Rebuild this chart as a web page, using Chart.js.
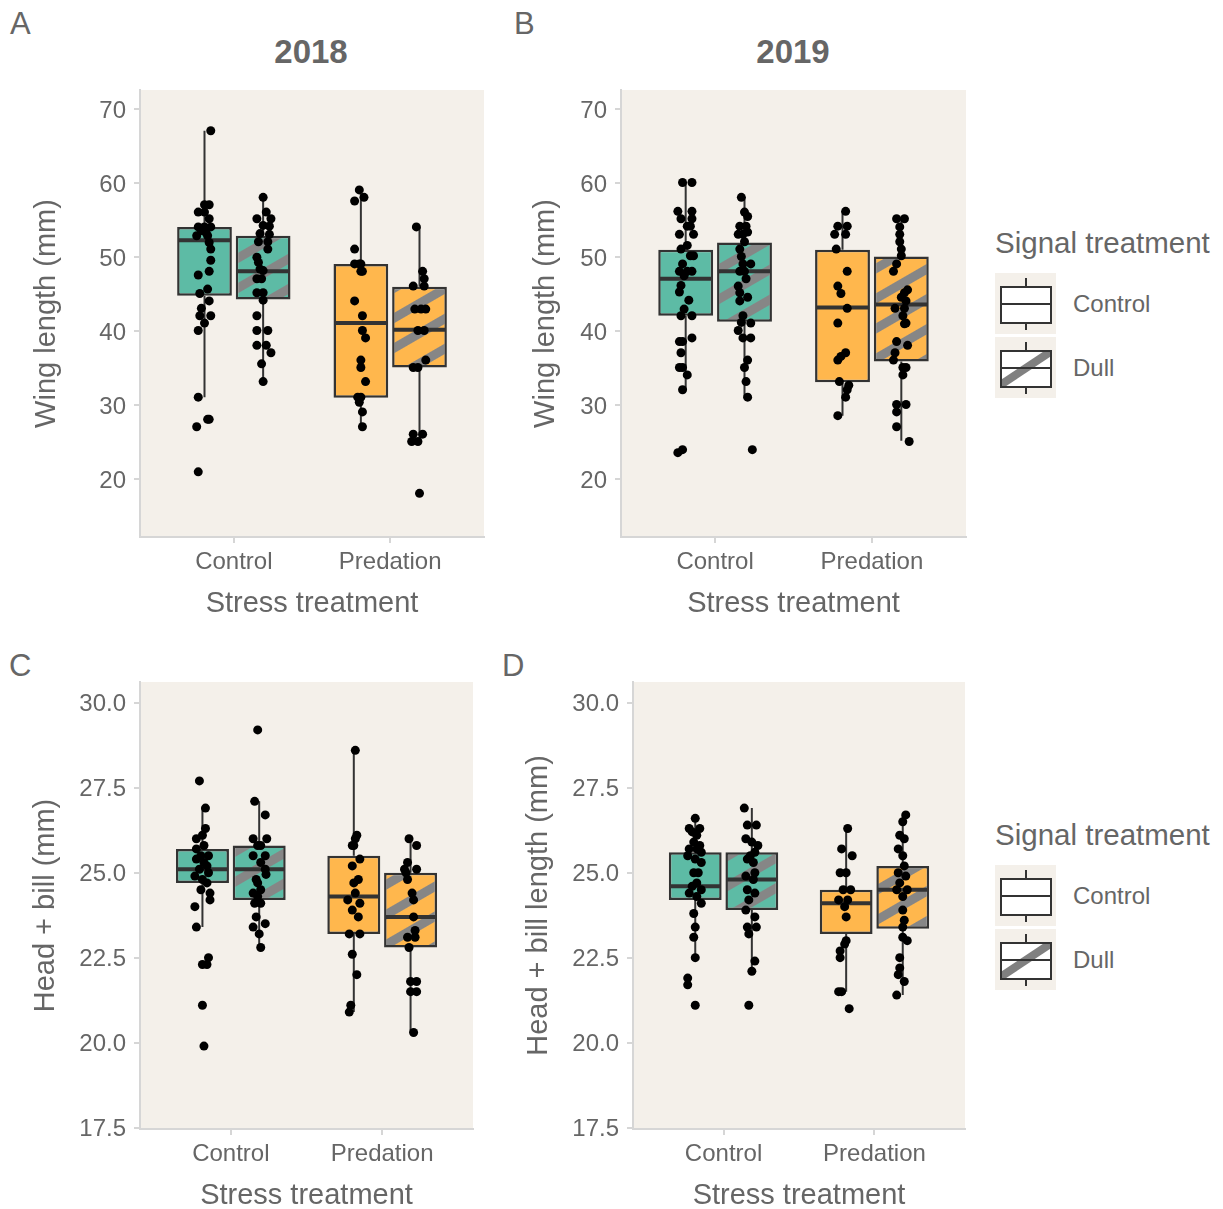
<!DOCTYPE html>
<html>
<head>
<meta charset="utf-8">
<script src="https://cdn.jsdelivr.net/npm/chart.js@4.4.1/dist/chart.umd.min.js"></script>
<style>
  html, body { margin: 0; padding: 0; background: #fff; width: 1223px; height: 1209px; overflow: hidden; }
  body { position: relative; font-family: "Liberation Sans", Arial, sans-serif; color: #666; }
  canvas { position: absolute; }
  .tag { position: absolute; font-size: 31px; line-height: 31px; }
  .year { position: absolute; width: 200px; text-align: center; font-size: 33px; line-height: 33px; font-weight: bold; }
  .leg-title { position: absolute; font-size: 29.5px; line-height: 29px; white-space: nowrap; }
  .leg-label { position: absolute; font-size: 24px; line-height: 24px; white-space: nowrap; }
  svg { position: absolute; }
</style>
</head>
<body>
<div class="tag" style="left:10px; top:8px;">A</div>
<div class="tag" style="left:514px; top:8px;">B</div>
<div class="tag" style="left:9px; top:650px;">C</div>
<div class="tag" style="left:502px; top:650px;">D</div>
<div class="year" style="left:211px; top:35px;">2018</div>
<div class="year" style="left:693px; top:35px;">2019</div>

<canvas id="panelA" width="500" height="564" style="left:0; top:60px;"></canvas>
<canvas id="panelB" width="480" height="564" style="left:500px; top:60px;"></canvas>
<canvas id="panelC" width="500" height="564" style="left:0; top:652px;"></canvas>
<canvas id="panelD" width="480" height="564" style="left:500px; top:652px;"></canvas>

<script>
const stressGroups = ['Control', 'Predation'];
const signalGroups = ['Control', 'Dull'];
const wingTicks = [20, 30, 40, 50, 60, 70];
const headTicks = [17.5, 20, 22.5, 25, 27.5, 30];

// box stats: [lower whisker, Q1, median, Q3, upper whisker]
// order: Control/Control, Control/Dull, Predation/Control, Predation/Dull
const wing2018Box = [[31.1, 44.8, 52.3, 54.1, 67.1], [33.2, 44.3, 48.1, 52.9, 58.1], [27.1, 31.0, 41.1, 49.1, 59.2], [25.1, 35.1, 40.2, 46.0, 54.1]];
const wing2019Box = [[32.1, 42.1, 47.1, 51.0, 60.1], [31.1, 41.3, 48.1, 52.0, 58.1], [28.6, 33.1, 43.2, 51.0, 56.2], [25.2, 35.9, 43.6, 50.1, 55.2]];
const head2018Box = [[23.4, 24.7, 25.1, 25.7, 26.9], [22.8, 24.2, 25.1, 25.8, 27.1], [20.9, 23.2, 24.3, 25.5, 28.6], [20.3, 22.8, 23.7, 25.0, 25.9]];
const head2019Box = [[22.5, 24.2, 24.6, 25.6, 26.6], [22.1, 23.9, 24.8, 25.6, 26.9], [21.5, 23.2, 24.1, 24.5, 26.3], [21.4, 23.35, 24.5, 25.2, 26.7]];

// individual birds: [value, jitter]
const wing2018Pts = [
  [[67.1,.04],[57.1,0],[57.1,.03],[56.1,-.04],[56.1,0],[55.2,.03],[54.1,-.04],[54.1,0],[54.1,.04],[53.6,-.02],[53.3,.01],[52.9,-.05],[52.9,.02],[52.0,.03],[51.1,.04],[49.6,.04],[48.1,.03],[47.6,-.04],[45.7,.02],[45.1,-.03],[44.1,.03],[43.1,-.02],[42.1,-.03],[42.1,.04],[41.1,0],[40.1,-.04],[31.1,-.04],[28.1,.02],[28.1,.03],[27.1,-.05],[21.0,-.04]],
  [[58.1,0],[56.1,.02],[55.2,-.04],[55.2,.05],[54.3,0],[54.2,.04],[53.2,-.02],[53.1,.04],[52.1,-.03],[52.1,.03],[51.1,.03],[50.0,-.04],[49.3,-.03],[48.4,-.02],[48.2,0],[47.1,-.04],[47.1,-.01],[45.2,-.04],[45.2,0],[44.2,0],[42.1,-.04],[40.1,-.04],[40.1,.03],[38.1,-.04],[38.1,.02],[37.1,.05],[35.6,-.01],[33.2,0]],
  [[59.1,-.01],[58.1,.02],[57.6,-.04],[51.1,-.04],[49.1,-.04],[49.1,-.01],[49.1,0],[48.1,.01],[48.1,0],[44.1,-.04],[42.1,.01],[40.1,.01],[39.1,.03],[36.1,0],[35.1,0],[33.2,.03],[31.1,-.02],[31.1,0],[30.4,-.01],[29.1,.01],[27.1,.01]],
  [[54.1,-.02],[48.1,.02],[47.1,.03],[46.1,-.04],[46.1,.03],[43.0,-.03],[43.0,.01],[43.0,.04],[40.1,-.01],[40.1,.03],[36.1,.04],[35.1,-.04],[35.1,-.01],[26.1,-.04],[26.1,.02],[25.1,-.05],[25.1,-.01],[18.1,0]]
];
const wing2019Pts = [
  [[60.1,-.02],[60.1,.04],[56.2,-.05],[56.2,.04],[55.2,-.03],[55.2,.04],[54.2,.01],[54.2,.03],[53.1,-.04],[53.1,.05],[51.6,.01],[51.1,-.03],[50.2,.03],[50.2,.05],[49.1,-.02],[48.1,-.04],[48.1,.01],[48.1,.04],[47.5,-.01],[46.2,-.03],[45.3,-.04],[44.2,.02],[43.0,-.01],[42.1,-.03],[42.1,.04],[39.1,.04],[38.6,-.04],[38.6,-.02],[37.1,-.03],[35.1,-.04],[35.1,-.02],[34.1,.01],[32.1,-.02],[24.0,-.02],[23.6,-.05]],
  [[58.1,-.02],[56.1,0],[55.5,.02],[54.2,-.03],[54.2,.01],[53.4,.02],[53.1,-.04],[53.1,-.01],[52.1,0],[51.1,-.03],[50.1,-.02],[49.1,.04],[49.1,-.01],[48.1,0],[48.1,-.03],[47.1,.01],[46.1,-.04],[45.2,-.03],[44.6,.02],[44.1,-.03],[42.1,-.01],[41.2,-.02],[41.1,.04],[40.1,-.04],[39.1,-.01],[39.1,.04],[36.1,.02],[35.1,0],[33.2,.01],[31.1,.02],[24.0,.05]],
  [[56.2,.02],[54.2,-.03],[54.2,.03],[53.1,-.05],[53.1,.02],[51.1,-.04],[48.1,.03],[46.1,-.03],[45.1,-.01],[43.1,.03],[41.1,-.03],[37.1,.02],[36.6,-.01],[36.1,-.03],[33.2,-.02],[32.7,.04],[32.1,.03],[31.1,.02],[28.6,-.03]],
  [[55.2,-.03],[55.2,.02],[54.1,-.01],[53.1,-.01],[52.1,-.01],[51.1,0],[50.2,0],[49.1,-.03],[48.1,-.05],[45.6,.04],[45.2,.02],[44.6,0],[44.1,.03],[43.1,-.04],[43.1,.02],[42.1,.01],[41.1,.03],[41.0,.02],[38.6,-.03],[38.1,.04],[37.1,-.04],[36.1,-.05],[35.1,.01],[35.1,.03],[34.1,.01],[30.1,-.03],[30.1,.03],[29.1,-.03],[27.1,-.03],[25.1,.05]]
];
const head2018Pts = [
  [[27.7,-.02],[26.9,.02],[26.3,.02],[26.1,0],[26.0,-.04],[25.8,.01],[25.7,-.04],[25.5,-.01],[25.5,.04],[25.4,-.04],[25.3,.01],[25.2,.03],[25.1,-.02],[25.0,.04],[24.9,-.05],[24.8,0],[24.7,.03],[24.5,-.01],[24.4,.05],[24.2,.05],[24.0,-.05],[23.4,-.04],[22.5,.04],[22.3,0],[22.3,.03],[21.1,0],[19.9,.01]],
  [[29.2,-.01],[27.1,-.03],[26.7,.04],[26.0,-.04],[26.0,.05],[25.8,-.01],[25.8,.01],[25.5,-.04],[25.5,.04],[25.3,.01],[25.1,.04],[24.95,.045],[24.8,-.02],[24.7,-.01],[24.5,.01],[24.4,-.04],[24.3,-.01],[24.1,.01],[24.1,-.03],[23.7,-.02],[23.5,.04],[23.4,-.04],[23.2,0],[22.8,.01]],
  [[28.6,.01],[26.1,.02],[26.0,.01],[25.8,-.01],[25.8,0],[25.4,.04],[25.2,-.01],[24.8,.03],[24.7,0],[24.4,.01],[24.2,-.04],[24.1,.04],[23.9,-.01],[23.7,.03],[23.2,-.03],[23.2,.04],[22.6,-.01],[22.0,.02],[21.1,-.02],[20.9,-.03]],
  [[26.0,-.01],[25.8,.04],[25.3,-.02],[25.1,-.04],[25.1,.04],[25.0,-.03],[24.8,-.02],[24.4,.01],[24.2,.02],[23.7,.02],[23.3,.03],[23.1,-.02],[23.1,.03],[22.8,-.01],[21.8,0],[21.8,.04],[21.5,0],[21.5,.04],[20.3,.02]]
];
const head2019Pts = [
  [[26.6,0],[26.3,-.04],[26.3,.03],[26.2,-.02],[26.1,.01],[25.9,-.01],[25.8,.03],[25.7,-.04],[25.7,.01],[25.6,.04],[25.5,-.05],[25.4,0],[25.3,.04],[25.0,-.01],[25.0,.02],[24.7,.01],[24.6,-.02],[24.5,.04],[24.4,-.04],[24.3,.01],[24.1,.04],[23.8,-.01],[23.4,0],[23.1,-.01],[22.5,0],[21.9,-.05],[21.7,-.05],[21.1,0]],
  [[26.9,-.05],[26.4,-.03],[26.4,.03],[26.0,-.04],[25.9,0],[25.8,.04],[25.6,.02],[25.5,-.01],[25.4,-.03],[25.3,.01],[25.0,.02],[24.9,-.04],[24.8,.01],[24.5,-.03],[24.4,.02],[24.2,-.02],[23.9,-.04],[23.7,.02],[23.4,-.03],[23.4,.03],[23.2,-.02],[22.4,.02],[22.1,0],[21.1,-.02]],
  [[26.3,.01],[25.7,-.03],[25.5,.04],[25.0,-.04],[25.0,0],[24.5,-.02],[24.5,.03],[24.2,-.05],[24.2,.01],[24.0,-.01],[23.7,0],[23.0,0],[22.9,-.01],[22.7,-.04],[22.5,-.04],[21.5,-.05],[21.5,-.03],[21.0,.02]],
  [[26.7,.02],[26.5,0],[26.1,-.02],[26.0,.01],[25.7,-.03],[25.5,0],[25.2,.01],[25.0,-.03],[24.9,.02],[24.7,-.02],[24.5,-.04],[24.5,.03],[24.3,0],[23.9,0],[23.6,.01],[23.4,0],[23.1,0],[23.0,.03],[22.5,-.02],[22.2,-.02],[22.0,-.03],[21.8,.01],[21.4,-.04]]
];

const fontFamily = "'Liberation Sans', Arial, sans-serif";
const textColor = '#666666';
const axisColor = '#d6d6d6';
const teal = '#5dbba5';
const orange = '#ffb74d';
const stripeColor = '#868686';
const ink = '#333333';
const panelColor = '#f4f0ea';
const dodge = 0.375;
const boxWidth = 0.35;

// diagonal stripes for the "Dull" boxes
function stripes(base) {
  const tile = document.createElement('canvas');
  tile.width = 26;
  tile.height = 26;
  const t = tile.getContext('2d');
  t.fillStyle = base;
  t.fillRect(0, 0, 26, 26);
  t.fillStyle = stripeColor;
  t.fillRect(0, 0, 26, 9);
  const p = t.createPattern(tile, 'repeat');
  p.setTransform(new DOMMatrix().rotate(-30));
  return p;
}

function boxCenter(i) {
  return 1 + Math.floor(i / 2) + (i % 2 ? 0.5 : -0.5) * dodge;
}

// beige panel background
const panelBg = {
  id: 'panelBg',
  beforeDraw(chart) {
    const { ctx, chartArea: a } = chart;
    ctx.save();
    ctx.fillStyle = panelColor;
    ctx.fillRect(a.left, a.top, a.right - a.left, a.bottom - a.top);
    ctx.restore();
  }
};

function buildPanel(id, stats, pts, yTicks, yMin, yMax, decimals, yTitle, geo) {
  const fills = [teal, stripes(teal), orange, stripes(orange)];
  const whiskers = [], medians = [], points = [];
  stats.forEach((s, i) => {
    const c = boxCenter(i);
    whiskers.push({x: c, y: s[4]}, {x: c, y: s[3]}, {x: c, y: null}, {x: c, y: s[1]}, {x: c, y: s[0]}, {x: c, y: null});
    medians.push({x: c - boxWidth / 2 + 0.006, y: s[2]}, {x: c + boxWidth / 2 - 0.006, y: s[2]}, {x: c, y: null});
    pts[i].forEach(p => points.push({x: c + p[1], y: p[0]}));
  });
  const boxes = stats.map((s, i) => ({x: boxCenter(i), y: [s[1], s[3]]}));

  return new Chart(document.getElementById(id), {
    type: 'scatter',
    data: {
      datasets: [
        { type: 'scatter', data: points, pointRadius: 4.5, pointBackgroundColor: '#000', pointBorderWidth: 0, order: 0 },
        { type: 'line', data: medians, borderColor: ink, borderWidth: 4, pointRadius: 0, order: 1 },
        { type: 'bar', data: boxes, backgroundColor: fills, borderColor: ink, borderWidth: 2.5, borderSkipped: false,
          barPercentage: 1, categoryPercentage: boxWidth / dodge, order: 2 },
        { type: 'line', data: whiskers, borderColor: ink, borderWidth: 2, pointRadius: 0, order: 3 }
      ]
    },
    options: {
      responsive: false,
      animation: false,
      events: [],
      layout: { padding: { top: 30, left: 0, right: geo.padRight, bottom: 0 } },
      plugins: { legend: { display: false }, tooltip: { enabled: false } },
      scales: {
        x: {
          type: 'linear', min: 0.4, max: 2.6, offset: false,
          afterBuildTicks: s => { s.ticks = stressGroups.map((_, k) => ({ value: k + 1 })); },
          afterFit: s => { s.height = 87; },
          ticks: { callback: v => stressGroups[Math.round(v) - 1], font: { family: fontFamily, size: 24 }, color: textColor, padding: 5, autoSkip: false, maxRotation: 0 },
          grid: { offset: false, drawOnChartArea: false, drawTicks: true, tickLength: 6, color: axisColor, lineWidth: 2 },
          border: { color: axisColor, width: 2 },
          title: { display: true, text: 'Stress treatment', color: textColor, font: { family: fontFamily, size: 29, lineHeight: 1 }, padding: { top: 0, bottom: 5.5 } }
        },
        y: {
          type: 'linear', min: yMin, max: yMax, beginAtZero: false,
          afterBuildTicks: s => { s.ticks = yTicks.map(v => ({ value: v })); },
          afterFit: s => { s.width = geo.axisWidth; },
          ticks: { callback: v => v.toFixed(decimals), font: { family: fontFamily, size: 24 }, color: textColor, padding: 8, labelOffset: 2 },
          grid: { drawOnChartArea: false, drawTicks: true, tickLength: 6, color: axisColor, lineWidth: 2 },
          border: { color: axisColor, width: 2 },
          title: { display: true, text: yTitle, color: textColor, font: { family: fontFamily, size: 29, lineHeight: 1 }, padding: { top: geo.titlePad, bottom: 0 } }
        }
      }
    },
    plugins: [panelBg]
  });
}

buildPanel('panelA', wing2018Box, wing2018Pts, wingTicks, 12.2, 72.6, 0, 'Wing length (mm)', { axisWidth: 140, padRight: 16, titlePad: 32.5 });
buildPanel('panelB', wing2019Box, wing2019Pts, wingTicks, 12.2, 72.6, 0, 'Wing length (mm)', { axisWidth: 121, padRight: 14, titlePad: 31.5 });
buildPanel('panelC', head2018Box, head2018Pts, headTicks, 17.46, 30.61, 1, 'Head + bill (mm)', { axisWidth: 140, padRight: 27, titlePad: 31.5 });
buildPanel('panelD', head2019Box, head2019Pts, headTicks, 17.46, 30.61, 1, 'Head + bill length (mm)', { axisWidth: 133, padRight: 15, titlePad: 24.5 });

// legends (one beside each row of panels)
function makeLegend(top) {
  const ns = 'http://www.w3.org/2000/svg';
  const title = document.createElement('div');
  title.className = 'leg-title';
  title.style.left = '995px';
  title.style.top = (top - 45) + 'px';
  title.textContent = 'Signal treatment';
  document.body.appendChild(title);

  const svg = document.createElementNS(ns, 'svg');
  svg.setAttribute('width', '62');
  svg.setAttribute('height', '128');
  svg.style.left = '995px';
  svg.style.top = top + 'px';
  let markup = '';
  signalGroups.forEach((g, k) => {
    const y0 = k * 64;
    markup += `<rect x="0" y="${y0}" width="61" height="61" fill="${panelColor}"/>`;
    markup += `<line x1="31" y1="${y0 + 5}" x2="31" y2="${y0 + 14}" stroke="${ink}" stroke-width="2"/>`;
    markup += `<line x1="31" y1="${y0 + 50}" x2="31" y2="${y0 + 57}" stroke="${ink}" stroke-width="2"/>`;
    markup += `<rect x="6" y="${y0 + 14}" width="50" height="36" fill="#fff"/>`;
    if (g === 'Dull') {
      markup += `<clipPath id="clip${top}"><rect x="6" y="${y0 + 14}" width="50" height="36"/></clipPath>`;
      markup += `<line x1="4" y1="${y0 + 49}" x2="58" y2="${y0 + 13}" stroke="#808080" stroke-width="8" clip-path="url(#clip${top})"/>`;
    }
    markup += `<line x1="6" y1="${y0 + 31}" x2="56" y2="${y0 + 31}" stroke="${ink}" stroke-width="2"/>`;
    markup += `<rect x="6" y="${y0 + 14}" width="50" height="36" fill="none" stroke="${ink}" stroke-width="2"/>`;

    const label = document.createElement('div');
    label.className = 'leg-label';
    label.style.left = '1073px';
    label.style.top = (top + 19 + k * 64) + 'px';
    label.textContent = g;
    document.body.appendChild(label);
  });
  svg.innerHTML = markup;
  document.body.appendChild(svg);
}

makeLegend(273);
makeLegend(865);
</script>
</body>
</html>
